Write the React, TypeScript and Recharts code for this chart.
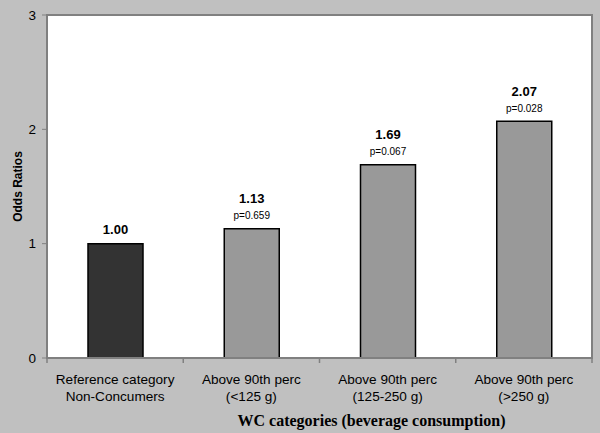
import React from 'react';
import { BarChart, Bar, XAxis, YAxis, Cell, LabelList, ReferenceArea } from 'recharts';

const categoryLine1 = ['Reference category', 'Above 90th perc', 'Above 90th perc', 'Above 90th perc'];
const categoryLine2 = ['Non-Concumers', '(<125 g)', '(125-250 g)', '(>250 g)'];
const oddsRatios = [1.0, 1.13, 1.69, 2.07];
const pValues = ['', 'p=0.659', 'p=0.067', 'p=0.028'];
const barColors = ['#333333', '#999999', '#999999', '#999999'];
const yTicks = [0, 1, 2, 3];

const data = categoryLine1.map((c, i) => ({
  key: `${c}|${categoryLine2[i]}`,
  line1: c,
  line2: categoryLine2[i],
  value: oddsRatios[i],
  p: pValues[i],
}));

const FONT = '"Liberation Sans", Arial, sans-serif';

const XTick = (props: any) => {
  const { x, y, payload, index } = props;
  const off = payload?.offset ?? 0;
  const d = data[index];
  const last = index === data.length - 1;
  return (
    <g>
      <line x1={x - off} x2={x - off} y1={y} y2={y + 5} stroke="#808080" strokeWidth={1.5} />
      {last && <line x1={x + off} x2={x + off} y1={y} y2={y + 5} stroke="#808080" strokeWidth={1.5} />}
      <text x={x} y={y + 21} textAnchor="middle" dominantBaseline="central" fontFamily={FONT} fontSize={13.6} fill="#000">
        {d ? d.line1 : ''}
      </text>
      <text x={x} y={y + 38} textAnchor="middle" dominantBaseline="central" fontFamily={FONT} fontSize={13.6} fill="#000">
        {d ? d.line2 : ''}
      </text>
    </g>
  );
};

const BarLabel = (props: any) => {
  const { x, y, width, index, value } = props;
  const cx = x + width / 2;
  const p = pValues[index];
  return (
    <g>
      {p ? (
        <>
          <text x={cx} y={y - 30} textAnchor="middle" dominantBaseline="central" fontFamily={FONT} fontSize={13} fontWeight="bold" fill="#000">
            {Number(value).toFixed(2)}
          </text>
          <text x={cx} y={y - 13} textAnchor="middle" dominantBaseline="central" fontFamily={FONT} fontSize={10} fill="#000">
            {p}
          </text>
        </>
      ) : (
        <text x={cx} y={y - 14} textAnchor="middle" dominantBaseline="central" fontFamily={FONT} fontSize={13} fontWeight="bold" fill="#000">
          {Number(value).toFixed(2)}
        </text>
      )}
    </g>
  );
};

const XTitle = (props: any) => {
  const vb = props.viewBox || {};
  return (
    <text
      x={vb.x + vb.width / 2 + 52}
      y={420}
      textAnchor="middle"
      dominantBaseline="central"
      fontFamily='"Liberation Serif", "Times New Roman", serif'
      fontSize={16}
      fontWeight="bold"
      fill="#000"
    >
      WC categories (beverage consumption)
    </text>
  );
};

const YTitle = (props: any) => {
  const vb = props.viewBox || {};
  const cy = vb.y + vb.height / 2;
  return (
    <text
      x={18}
      y={cy}
      transform={`rotate(-90, 18, ${cy})`}
      textAnchor="middle"
      dominantBaseline="central"
      fontFamily={FONT}
      fontSize={12}
      fontWeight="bold"
      fill="#000"
    >
      Odds Ratios
    </text>
  );
};

export default function App() {
  return (
    <div style={{ position: 'absolute', left: 0, top: 0, width: 600, height: 433, background: '#c0c0c0' }}>
      <BarChart width={600} height={433} data={data} margin={{ top: 15, right: 8, bottom: 0, left: 0 }}>
        <ReferenceArea y1={0} y2={3} fill="#ffffff" fillOpacity={1} stroke="#808080" strokeWidth={2} />
        <XAxis
          dataKey="key"
          height={75}
          axisLine={{ stroke: '#808080', strokeWidth: 2 }}
          tickLine={false}
          tickSize={0}
          tickMargin={0}
          interval={0}
          tick={<XTick />}
          label={<XTitle />}
        />
        <YAxis
          width={47}
          domain={[0, 3]}
          ticks={yTicks}
          interval={0}
          axisLine={{ stroke: '#808080', strokeWidth: 2 }}
          tickLine={{ stroke: '#808080' }}
          tickSize={5}
          tickMargin={6}
          tick={{ fontFamily: FONT, fontSize: 13.5, fill: '#000' }}
          label={<YTitle />}
        />
        <Bar dataKey="value" barSize={55} stroke="#000" strokeWidth={1.5} isAnimationActive={false}>
          {data.map((d, i) => (
            <Cell key={d.key} fill={barColors[i]} />
          ))}
          <LabelList dataKey="value" content={<BarLabel />} />
        </Bar>
      </BarChart>
    </div>
  );
}
